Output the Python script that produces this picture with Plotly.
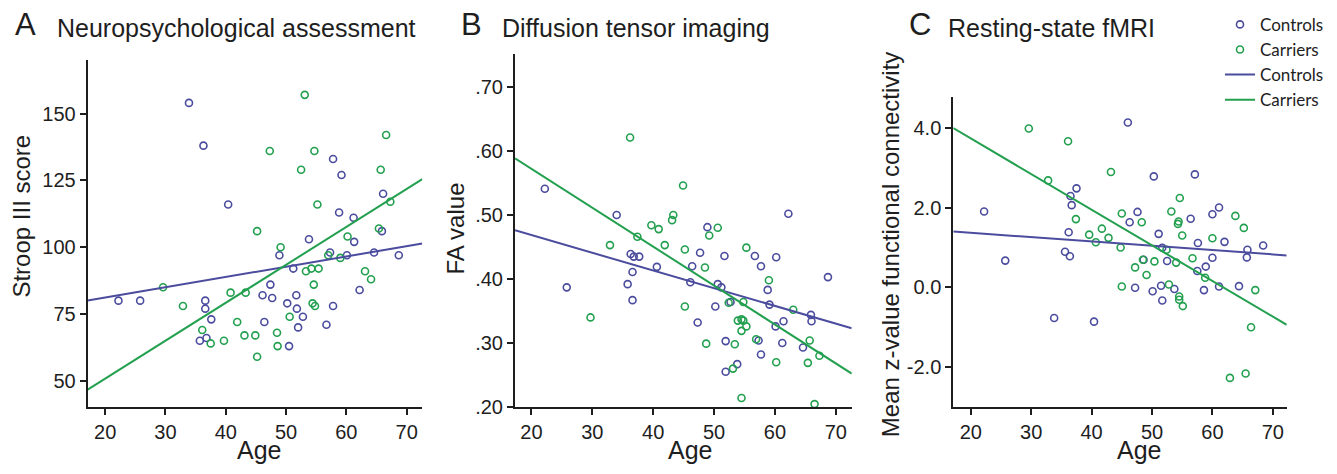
import numpy as np
import plotly.graph_objects as go

# ---------------- Data ----------------
# Panel A: Stroop III score vs age
a_ctrl_age = [33.9, 36.3, 40.4, 22.2, 25.8, 36.6, 36.6, 37.6, 35.7, 36.8,
              57.8, 59.2, 66.1, 58.8, 61.2, 65.9, 53.8, 61.3, 48.9, 57.3, 60.1, 64.6, 68.7,
              51.2, 47.4, 46.1, 47.7, 51.7, 50.2, 51.8, 52.8, 57.8, 62.2, 46.4, 52.0, 56.7, 50.5]
a_ctrl_val = [154, 138, 116, 80, 80, 80, 77, 73, 65, 66,
              133, 127, 120, 113, 111, 106, 103, 102, 97, 98, 97, 98, 97,
              92, 86, 82, 81, 82, 79, 77, 74, 78, 84, 72, 70, 71, 63]
a_carr_age = [29.6, 32.9, 36.1, 37.5, 39.7, 40.8,
              53.1, 66.6, 47.3, 54.7, 52.5, 65.7, 55.2, 67.3, 45.2, 65.4, 60.2, 49.1, 57.0, 59.0,
              53.3, 54.2, 55.4, 63.1, 64.1, 54.6, 43.3, 54.4, 54.8, 41.9, 50.6, 43.1, 44.9, 48.5,
              48.6, 45.2]
a_carr_val = [85, 78, 69, 64, 65, 83,
              157, 142, 136, 136, 129, 129, 116, 117, 106, 107, 104, 100, 97, 96,
              91, 92, 92, 91, 88, 86, 83, 79, 78, 72, 74, 67, 67, 68,
              63, 59]

# Panel B: FA value vs age
b_ctrl_age = [22.2, 25.8, 34.0, 36.3, 36.8, 37.7, 36.6, 35.8, 36.6, 40.6,
              62.2, 48.9, 47.7, 51.7, 56.7, 60.2, 57.7, 46.4, 46.1, 50.6, 51.2, 68.7, 58.8,
              52.7, 50.2, 59.1, 47.3, 61.4, 65.9, 66.0, 60.1, 51.9, 57.3, 61.2, 64.6, 57.7,
              53.8, 51.9]
b_ctrl_val = [0.541, 0.387, 0.500, 0.439, 0.435, 0.435, 0.411, 0.392, 0.367, 0.419,
              0.502, 0.481, 0.441, 0.436, 0.436, 0.434, 0.420, 0.420, 0.395, 0.392, 0.387, 0.403, 0.383,
              0.364, 0.357, 0.360, 0.332, 0.334, 0.344, 0.334, 0.326, 0.303, 0.304, 0.300, 0.293, 0.282,
              0.267, 0.255]
b_carr_age = [36.2, 29.7, 32.9, 37.4, 39.7, 40.9, 41.9, 43.1, 43.3, 44.9, 45.2, 48.5, 49.2,
              50.6, 55.3, 59.0, 45.2, 52.4, 54.8, 63.0, 53.9, 54.5, 54.8, 55.3, 54.5, 56.9,
              48.7, 53.4, 65.7, 67.3, 60.2, 65.4, 53.1, 54.5, 66.5]
b_carr_val = [0.621, 0.340, 0.453, 0.466, 0.484, 0.478, 0.453, 0.492, 0.500, 0.546, 0.446, 0.418, 0.468,
              0.480, 0.449, 0.398, 0.357, 0.363, 0.364, 0.352, 0.335, 0.337, 0.335, 0.326, 0.319, 0.306,
              0.299, 0.298, 0.304, 0.280, 0.270, 0.269, 0.260, 0.214, 0.2046]

# Panel C: mean z-value functional connectivity vs age
c_ctrl_age = [22.2, 25.7, 33.8, 40.4, 37.5, 36.5, 36.7, 36.2, 35.6, 36.4,
              46.0, 50.3, 57.1, 61.1, 60.0, 56.4, 47.6, 46.3, 51.1, 51.7, 57.6, 62.0, 68.4,
              65.8, 65.7, 60.0, 52.5, 48.6, 57.5, 58.9, 53.7, 51.5, 50.1, 47.2, 51.7, 58.6,
              61.1, 64.4]
c_ctrl_val = [1.90, 0.67, -0.77, -0.86, 2.48, 2.29, 2.06, 1.38, 0.89, 0.78,
              4.13, 2.78, 2.83, 2.00, 1.83, 1.72, 1.89, 1.63, 1.34, 0.99, 1.11, 1.14, 1.05,
              0.94, 0.75, 0.74, 0.66, 0.69, 0.41, 0.52, -0.04, 0.04, -0.10, -0.01, -0.33, -0.07,
              0.02, 0.03]
c_carr_age = [29.6, 36.1, 32.8, 37.4, 39.6, 41.7, 40.7, 42.8, 43.2,
              54.6, 53.2, 45.0, 48.3, 54.4, 54.3, 63.8, 65.2, 55.0, 60.0, 44.8, 52.4, 50.4,
              48.5, 54.0, 56.7, 47.2, 49.1, 58.8, 45.0, 52.8, 54.5, 54.5, 55.1, 67.1, 66.4,
              62.9, 65.5]
c_carr_val = [3.98, 3.66, 2.68, 1.71, 1.32, 1.47, 1.13, 1.24, 2.89,
              2.24, 1.90, 1.85, 1.63, 1.65, 1.59, 1.79, 1.49, 1.30, 1.23, 1.00, 0.94, 0.65,
              0.69, 0.62, 0.73, 0.50, 0.31, 0.24, 0.02, 0.07, -0.23, -0.31, -0.47, -0.07, -1.00,
              -2.27, -2.16]

# Fit lines (intercept, slope): [controls, carriers]
a_fit_intercept = [73.5, 22.4]
a_fit_slope = [0.384, 1.42]
b_fit_intercept = [0.524, 0.694]
b_fit_slope = [-0.002767, -0.006085]
c_fit_intercept = [1.581, 5.517]
c_fit_slope = [-0.0108, -0.0893]

x_ticks = [20, 30, 40, 50, 60, 70]
a_yticks = [50, 75, 100, 125, 150]
b_yticks = [0.20, 0.30, 0.40, 0.50, 0.60, 0.70]
b_yticklabels = [".20", ".30", ".40", ".50", ".60", ".70"]
c_yticks = [-2.0, 0.0, 2.0, 4.0]
c_yticklabels = ["-2.0", "0.0", "2.0", "4.0"]

panel_letters = ["A", "B", "C"]
panel_titles = ["Neuropsychological assessment", "Diffusion tensor imaging", "Resting-state fMRI"]
y_titles = ["Stroop III score", "FA value", "Mean z-value functional connectivity"]
x_title = "Age"
group_names = ["Controls", "Carriers"]

# ---------------- Style ----------------
W, H = 1337, 474
BLUE = "#4b4c9e"
GREEN = "#23a04f"
AXC = "#1e1e1e"
FONT = "Liberation Sans, Arial, sans-serif"
LEGFONT = "Lato, Carlito, sans-serif"

def px_x(p):
    return p / W

def px_y(p):
    return 1 - p / H

panels = [
    dict(xd=(87.7, 422.3), yd=(61, 416.7), xr=(17.1, 72.6), yr=(40.2, 170.2),
         ctrl=(a_ctrl_age, a_ctrl_val), carr=(a_carr_age, a_carr_val),
         fi=a_fit_intercept, fs=a_fit_slope, yt=a_yticks, ytl=[str(v) for v in a_yticks]),
    dict(xd=(515, 851.7), yd=(55, 416.7), xr=(17.3, 72.6), yr=(0.2, 0.752),
         ctrl=(b_ctrl_age, b_ctrl_val), carr=(b_carr_age, b_carr_val),
         fi=b_fit_intercept, fs=b_fit_slope, yt=b_yticks, ytl=b_yticklabels),
    dict(xd=(953.3, 1286.7), yd=(99.3, 416.7), xr=(17.1, 72.3), yr=(-3.0, 4.77),
         ctrl=(c_ctrl_age, c_ctrl_val), carr=(c_carr_age, c_carr_val),
         fi=c_fit_intercept, fs=c_fit_slope, yt=c_yticks, ytl=c_yticklabels),
]

fig = go.Figure()
layout = dict(width=W, height=H, margin=dict(l=0, r=0, t=0, b=0),
              paper_bgcolor="white", plot_bgcolor="white",
              font=dict(family=FONT, color=AXC), annotations=[])

for i, p in enumerate(panels):
    s = "" if i == 0 else str(i + 1)
    xa, ya = "x" + s, "y" + s
    last = (i == 2)
    # scatter points
    for g, (data, col) in enumerate([(p["ctrl"], BLUE), (p["carr"], GREEN)]):
        fig.add_trace(go.Scatter(
            x=data[0], y=data[1], mode="markers", xaxis=xa, yaxis=ya,
            name=group_names[g], showlegend=last, legendrank=g + 1,
            marker=dict(symbol="circle-open", size=7, color=col, line=dict(width=1.6, color=col)),
        ))
    # fit lines
    xs = np.array(p["xr"])
    for g, col in enumerate([BLUE, GREEN]):
        fig.add_trace(go.Scatter(
            x=xs, y=p["fi"][g] + p["fs"][g] * xs, mode="lines", xaxis=xa, yaxis=ya,
            name=group_names[g], showlegend=last, legendrank=g + 3,
            line=dict(color=col, width=2),
        ))
    common = dict(showline=True, linewidth=2, linecolor=AXC, ticks="outside", ticklen=6,
                  tickwidth=2, tickcolor=AXC, showgrid=False, zeroline=False,
                  tickfont=dict(size=20, color=AXC, family=FONT))
    layout["xaxis" + s] = dict(common, domain=[px_x(p["xd"][0]), px_x(p["xd"][1])],
                               range=list(p["xr"]), anchor=ya, tickvals=x_ticks)
    layout["yaxis" + s] = dict(common, domain=[px_y(p["yd"][1]), px_y(p["yd"][0])],
                               range=list(p["yr"]), anchor=xa, tickvals=p["yt"], ticktext=p["ytl"])

# Titles
letter_x = [13, 458.7, 907]
title_x = [55, 499.7, 946]
for i in range(3):
    layout["annotations"].append(dict(text=panel_letters[i], x=px_x(letter_x[i]), y=px_y(25),
                                      xref="paper", yref="paper", xanchor="left", yanchor="middle",
                                      showarrow=False, font=dict(size=31, family=FONT, color=AXC)))
    layout["annotations"].append(dict(text=panel_titles[i], x=px_x(title_x[i]), y=px_y(28.5),
                                      xref="paper", yref="paper", xanchor="left", yanchor="middle",
                                      showarrow=False, font=dict(size=25, family=FONT, color=AXC)))

# Axis titles
ytitle_pos = [(22, 221.7), (456, 234), (890, 250)]
xtitle_x = [259, 690, 1139]
for i in range(3):
    layout["annotations"].append(dict(text=y_titles[i], x=px_x(ytitle_pos[i][0]), y=px_y(ytitle_pos[i][1]),
                                      xref="paper", yref="paper", xanchor="center", yanchor="middle",
                                      textangle=-90, showarrow=False,
                                      font=dict(size=24, family=FONT, color=AXC)))
    layout["annotations"].append(dict(text=x_title, x=px_x(xtitle_x[i]), y=px_y(461),
                                      xref="paper", yref="paper", xanchor="center", yanchor="middle",
                                      showarrow=False, font=dict(size=25, family=FONT, color=AXC)))

layout["legend"] = dict(x=px_x(1220), y=px_y(7), xanchor="left", yanchor="top",
                        bgcolor="rgba(0,0,0,0)", font=dict(size=17, family=LEGFONT, color=AXC),
                        tracegroupgap=0, itemwidth=30)

fig.update_layout(**layout)
fig.write_html(
    "out.html",
    config={"displayModeBar": False},
    post_script="document.body.style.margin='0px';document.documentElement.style.overflow='hidden';",
)
